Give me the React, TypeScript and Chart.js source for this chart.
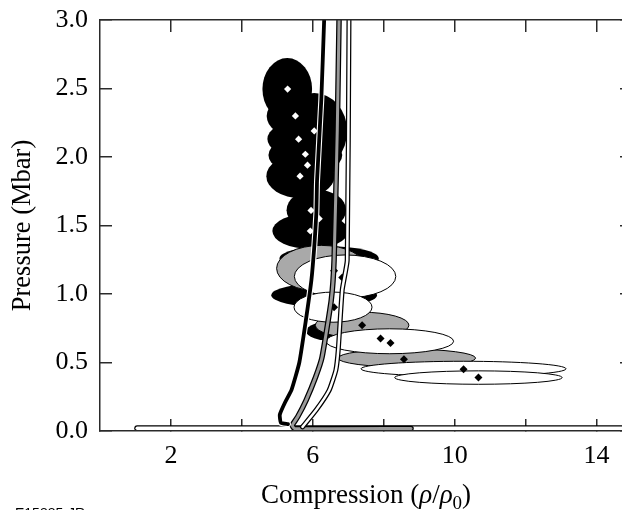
import { useEffect, useRef } from 'react';
import { Chart, registerables } from 'chart.js';

Chart.register(...registerables);

// ---- axis ticks ----
const xTicks = [2, 4, 6, 8, 10, 12, 14];
const xTickLabels = ['2', '', '6', '', '10', '', '14'];
const yTicks = [0, 0.5, 1, 1.5, 2, 2.5, 3];
const yTickLabels = ['0.0', '0.5', '1.0', '1.5', '2.0', '2.5', '3.0'];

// ---- error ellipses: centre (compression, Mbar) and semi-axes ----
const blackEllCx = [5.28, 5.51, 5.59, 6.04, 5.79, 5.84, 5.65, 6.10, 5.93, 6.46, 6.32, 6.60];
const blackEllCy = [2.496, 2.299, 2.131, 2.189, 2.014, 1.941, 1.86, 1.612, 1.459, 1.26, 0.991, 0.729];
const blackEllRx = [0.70, 0.81, 0.87, 0.93, 1.04, 0.84, 0.96, 0.84, 1.07, 1.40, 1.49, 0.79];
const blackEllRy = [0.226, 0.15, 0.13, 0.278, 0.14, 0.12, 0.16, 0.15, 0.13, 0.088, 0.088, 0.073];

const grayEllCx = [6.24, 7.39, 8.65];
const grayEllCy = [1.187, 0.772, 0.532];
const grayEllRx = [1.26, 1.32, 1.94];
const grayEllRy = [0.168, 0.095, 0.066];

const whiteEllCx = [6.91, 6.57, 8.17, 10.25, 10.67];
const whiteEllCy = [1.128, 0.904, 0.655, 0.454, 0.39];
const whiteEllRx = [1.43, 1.10, 1.80, 2.89, 2.36];
const whiteEllRy = [0.157, 0.11, 0.091, 0.055, 0.049];

// ---- data points ----
const whiteDiamondX = [5.29, 5.51, 5.60, 6.04, 5.79, 5.85, 5.64, 5.95, 5.93, 6.18];
const whiteDiamondY = [2.496, 2.30, 2.13, 2.19, 2.02, 1.94, 1.86, 1.61, 1.46, 1.55];
const blackDiamondX = [6.60, 6.83, 6.60, 7.39, 7.91, 8.19, 8.57, 10.25, 10.67];
const blackDiamondY = [1.17, 1.12, 0.903, 0.771, 0.675, 0.643, 0.524, 0.451, 0.39];

// ---- model curves ----
const blackCurveX = [5.30, 5.10, 5.07, 5.22, 5.40, 5.62, 5.80, 5.96, 6.04, 6.10, 6.12, 6.24, 6.32];
const blackCurveY = [0.05, 0.06, 0.12, 0.21, 0.30, 0.50, 0.80, 1.10, 1.34, 1.59, 1.83, 2.42, 3.0];
const grayCurveX = [8.77, 5.48, 5.42, 5.57, 5.81, 6.08, 6.26, 6.52, 6.60, 6.69, 6.74];
const grayCurveY = [0.018, 0.018, 0.042, 0.102, 0.224, 0.394, 0.538, 0.955, 1.247, 2.196, 3.0];
const whiteCurveX = [5.71, 6.09, 6.46, 6.65, 6.72, 6.83, 6.97, 7.02];
const whiteCurveY = [0.03, 0.151, 0.297, 0.444, 0.60, 1.03, 1.245, 3.0];
const barX = [1.05, 15];
const barY = [0.02, 0.02];

const SERIF = "'Liberation Serif', 'Times New Roman', serif";
const AXIS = '#2a2a2a';
const GRAY_FILL = '#a9a9a9';
const GRAY_LINE = '#9a9a9a';

const pts = (xs: number[], ys: number[]) => xs.map((x, i) => ({ x, y: ys[i] }));

function drawEllipses(
  ctx: CanvasRenderingContext2D, chart: any,
  cx: number[], cy: number[], rx: number[], ry: number[],
  fill: string, stroke: string | null
) {
  const xs = chart.scales.x;
  const ys = chart.scales.y;
  for (let i = 0; i < cx.length; i++) {
    const px = xs.getPixelForValue(cx[i]);
    const py = ys.getPixelForValue(cy[i]);
    const prx = Math.abs(xs.getPixelForValue(cx[i] + rx[i]) - px);
    const pry = Math.abs(ys.getPixelForValue(cy[i] + ry[i]) - py);
    ctx.beginPath();
    ctx.ellipse(px, py, prx, pry, 0, 0, Math.PI * 2);
    ctx.fillStyle = fill;
    ctx.fill();
    if (stroke) {
      ctx.lineWidth = 1;
      ctx.strokeStyle = stroke;
      ctx.stroke();
    }
  }
}

const ellipsePlugin = {
  id: 'ellipses',
  beforeDatasetsDraw(chart: any) {
    const { ctx, chartArea } = chart;
    ctx.save();
    ctx.beginPath();
    ctx.rect(chartArea.left, chartArea.top, chartArea.right - chartArea.left, chartArea.bottom - chartArea.top);
    ctx.clip();
    drawEllipses(ctx, chart, blackEllCx, blackEllCy, blackEllRx, blackEllRy, '#000', null);
    drawEllipses(ctx, chart, grayEllCx, grayEllCy, grayEllRx, grayEllRy, GRAY_FILL, '#000');
    drawEllipses(ctx, chart, whiteEllCx, whiteEllCy, whiteEllRx, whiteEllRy, '#fff', '#000');
    ctx.restore();
  },
};

const textPlugin = {
  id: 'texts',
  afterDraw(chart: any) {
    const { ctx, chartArea } = chart;
    ctx.save();
    const parts = [
      { t: 'Compression (', f: `27px ${SERIF}`, dy: 0 },
      { t: 'ρ', f: `italic 27px ${SERIF}`, dy: 0 },
      { t: '/', f: `27px ${SERIF}`, dy: 0 },
      { t: 'ρ', f: `italic 27px ${SERIF}`, dy: 0 },
      { t: '0', f: `19px ${SERIF}`, dy: 6 },
      { t: ')', f: `27px ${SERIF}`, dy: 0 },
    ];
    let total = 0;
    const widths = parts.map((p) => {
      ctx.font = p.f;
      const w = ctx.measureText(p.t).width;
      total += w;
      return w;
    });
    let x = (chartArea.left + chartArea.right) / 2 - total / 2;
    const base = 503;
    ctx.fillStyle = '#000';
    ctx.textBaseline = 'alphabetic';
    ctx.textAlign = 'left';
    parts.forEach((p, i) => {
      ctx.font = p.f;
      ctx.fillText(p.t, x, base + p.dy);
      x += widths[i];
    });
    ctx.font = `14px 'Liberation Sans', Arial, sans-serif`;
    ctx.fillText('E15885-JR', 15, 518);
    ctx.restore();
  },
};

const gridOpts = { drawOnChartArea: false, drawTicks: true, tickLength: -12, color: AXIS, lineWidth: 1.5 };
const borderOpts = { display: true, color: AXIS, width: 1.5, z: 1 };

const fitTo = (prop: 'width' | 'height', size: number) => (s: any) => {
  s[prop] = size;
  s.paddingTop = 0;
  s.paddingBottom = 0;
  s.paddingLeft = 0;
  s.paddingRight = 0;
};

export default function App() {
  const ref = useRef<HTMLCanvasElement | null>(null);

  useEffect(() => {
    if (!ref.current) return;
    const line = (data: any, color: string, width: number, order: number, tension = 0) => ({
      type: 'scatter',
      data,
      showLine: true,
      borderColor: color,
      backgroundColor: color,
      borderWidth: width,
      pointRadius: 0,
      tension,
      borderCapStyle: 'round',
      borderJoinStyle: 'round',
      order,
    });
    const chart = new Chart(ref.current, {
      type: 'scatter',
      data: {
        datasets: [
          { type: 'scatter', data: pts(whiteDiamondX, whiteDiamondY), pointStyle: 'rectRot', pointRadius: 3.6, backgroundColor: '#fff', borderColor: '#fff', borderWidth: 0, order: 20 },
          { type: 'scatter', data: pts(blackDiamondX, blackDiamondY), pointStyle: 'rectRot', pointRadius: 4, backgroundColor: '#000', borderColor: '#000', borderWidth: 0, order: 19 },
          line(pts(barX, barY), '#000', 6, 18),
          line(pts(barX, barY), '#fff', 3.5, 17),
          line(pts(grayCurveX, grayCurveY), '#000', 5.5, 16, 0.15),
          line(pts(grayCurveX, grayCurveY), GRAY_LINE, 3, 15, 0.15),
          line(pts(whiteCurveX, whiteCurveY), '#000', 5, 14, 0.15),
          line(pts(whiteCurveX, whiteCurveY), '#fff', 2.5, 13, 0.15),
          line(pts(blackCurveX, blackCurveY), '#fff', 6, 12, 0.15),
          line(pts(blackCurveX, blackCurveY), '#000', 3.8, 11, 0.15),
        ] as any,
      },
      options: {
        responsive: false,
        animation: false,
        devicePixelRatio: 1,
        events: [],
        layout: { padding: 0 },
        plugins: { legend: { display: false }, tooltip: { enabled: false }, title: { display: false } },
        scales: {
          x: {
            type: 'linear', position: 'bottom', min: 0, max: 15,
            afterBuildTicks: (s: any) => { s.ticks = xTicks.map((v) => ({ value: v })); },
            afterFit: fitTo('height', 79),
            ticks: {
              callback: (v: any) => xTickLabels[xTicks.indexOf(Number(v))] ?? '',
              font: { family: SERIF, size: 26 }, color: '#000', padding: 22, maxRotation: 0, autoSkip: false,
            },
            grid: gridOpts, border: borderOpts,
          },
          x2: {
            type: 'linear', position: 'top', min: 0, max: 15,
            afterBuildTicks: (s: any) => { s.ticks = xTicks.map((v) => ({ value: v })); },
            afterFit: fitTo('height', 20),
            ticks: { display: false },
            grid: gridOpts, border: borderOpts,
          },
          y: {
            type: 'linear', position: 'left', min: 0, max: 3,
            afterBuildTicks: (s: any) => { s.ticks = yTicks.map((v) => ({ value: v })); },
            afterFit: fitTo('width', 100),
            ticks: {
              callback: (v: any) => yTickLabels[yTicks.indexOf(Number(v))] ?? '',
              font: { family: SERIF, size: 26 }, color: '#000', padding: 24, autoSkip: false,
            },
            grid: gridOpts, border: borderOpts,
            title: { display: true, text: 'Pressure (Mbar)', font: { family: SERIF, size: 26.5 }, color: '#000', padding: { top: 7, bottom: 0 } },
          },
          y2: {
            type: 'linear', position: 'right', min: 0, max: 3,
            afterBuildTicks: (s: any) => { s.ticks = yTicks.map((v) => ({ value: v })); },
            afterFit: fitTo('width', 18),
            ticks: { display: false },
            grid: gridOpts, border: borderOpts,
          },
        },
      } as any,
      plugins: [ellipsePlugin, textPlugin],
    });
    return () => chart.destroy();
  }, []);

  return (
    <div style={{ position: 'fixed', left: 0, top: 0, width: 622, height: 510, overflow: 'hidden', background: '#fff' }}>
      <canvas ref={ref} width={650} height={510} style={{ display: 'block', width: 650, height: 510 }} />
    </div>
  );
}
